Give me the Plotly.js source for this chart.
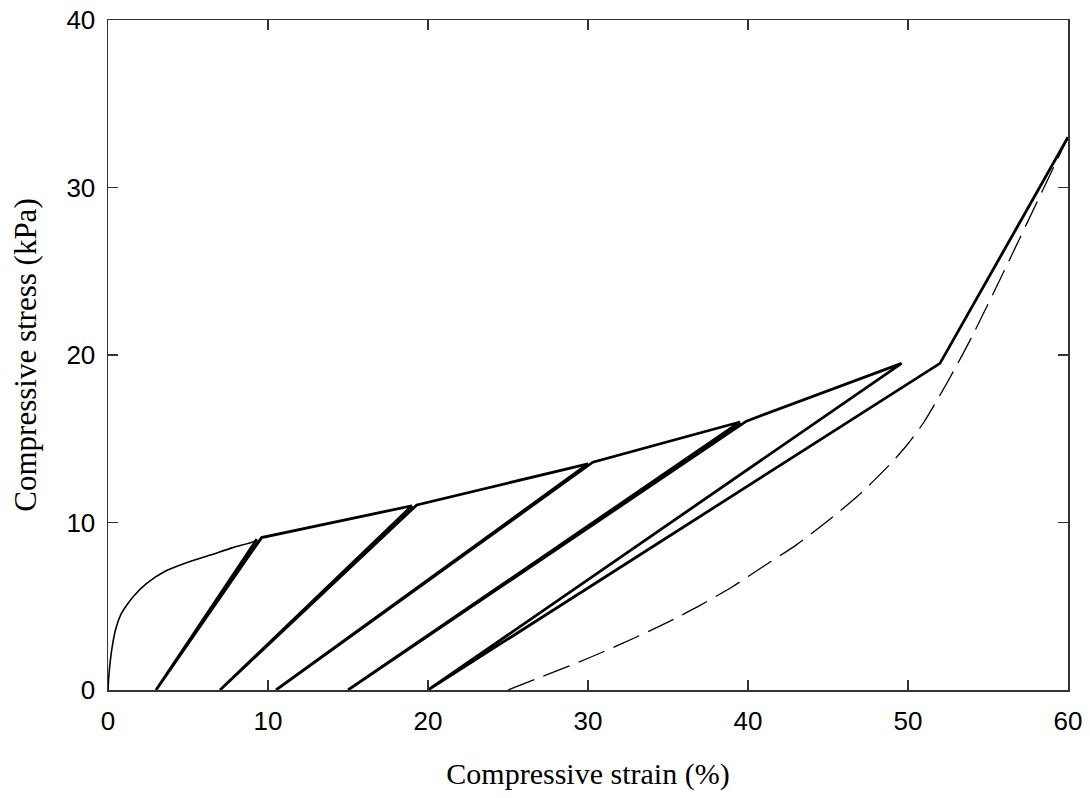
<!DOCTYPE html>
<html>
<head>
<meta charset="utf-8">
<script src="https://cdn.plot.ly/plotly-3.0.1.min.js"></script>
<style>html,body{margin:0;padding:0;background:#fff;}#chart{width:1090px;height:798px;}</style>
</head>
<body>
<div id="chart"></div>
<script>
// Initial loading curve (thin)
const initStrain = [0, 0.05, 0.15, 0.3, 0.5, 0.8, 1.2, 1.6, 2.4, 3.6, 4.9, 6.4, 7.8, 9.1, 9.3];
const initStress = [0, 0.8, 1.8, 2.8, 3.7, 4.5, 5.1, 5.6, 6.35, 7.1, 7.6, 8.06, 8.5, 8.86, 9.0];

// Cyclic unloading / reloading path (thick)
const cycleStrain = [9.3, 3.0, 9.6, 19.0, 7.0, 19.3, 30.0, 10.5, 30.3, 39.5, 15.0, 39.9, 49.6, 20.0, 52.0, 60.0];
const cycleStress = [9.0, 0, 9.1, 11.0, 0, 11.05, 13.5, 0, 13.6, 16.0, 0, 16.05, 19.5, 0, 19.5, 33.0];

// Dashed curve
const dashStrain = [25, 27, 29, 31, 33, 35, 37, 39, 41, 43, 45, 47, 49, 50, 51, 52, 53, 54, 56, 58, 60];
const dashStress = [0, 0.75, 1.5, 2.3, 3.15, 4.05, 5.05, 6.15, 7.4, 8.65, 10.1, 11.7, 13.6, 14.7, 16.0, 17.6, 19.3, 21.1, 25.0, 29.0, 33.0];

const xTicks = [0, 10, 20, 30, 40, 50, 60];
const yTicks = [0, 10, 20, 30, 40];

const traces = [
  {x: initStrain, y: initStress, mode: 'lines', line: {color: '#000', width: 1.6, shape: 'spline', smoothing: 0.6}, hoverinfo: 'skip'},
  {x: cycleStrain, y: cycleStress, mode: 'lines', line: {color: '#000', width: 2.8}, hoverinfo: 'skip'},
  {x: dashStrain, y: dashStress, mode: 'lines', line: {color: '#000', width: 1.3, dash: '28px,10px', shape: 'spline', smoothing: 0.6}, hoverinfo: 'skip'}
];

const axisCommon = {
  showgrid: false, zeroline: false, showline: true, mirror: 'ticks',
  linecolor: '#333', linewidth: 1.5,
  ticks: 'inside', ticklen: 10, tickwidth: 1.5, tickcolor: '#333',
  tickfont: {family: 'Liberation Sans, Arial, sans-serif', size: 26, color: '#000'}
};

const layout = {
  width: 1090, height: 798,
  margin: {l: 108, r: 22, t: 20, b: 108},
  paper_bgcolor: '#fff', plot_bgcolor: '#fff',
  showlegend: false,
  xaxis: Object.assign({}, axisCommon, {
    range: [0, 60], tickvals: xTicks, ticktext: xTicks.map(String),
    ticklabelstandoff: 7,
    title: {text: 'Compressive strain (%)', font: {family: 'Liberation Serif, Times New Roman, serif', size: 30, color: '#000'}, standoff: 28}
  }),
  yaxis: Object.assign({}, axisCommon, {
    range: [0, 40], tickvals: yTicks, ticktext: yTicks.map(String),
    ticklabelstandoff: 6,
    title: {text: 'Compressive stress (kPa)', font: {family: 'Liberation Serif, Times New Roman, serif', size: 31, color: '#000'}, standoff: 20}
  })
};

Plotly.newPlot('chart', traces, layout, {displayModeBar: false, staticPlot: true});
</script>
</body>
</html>
